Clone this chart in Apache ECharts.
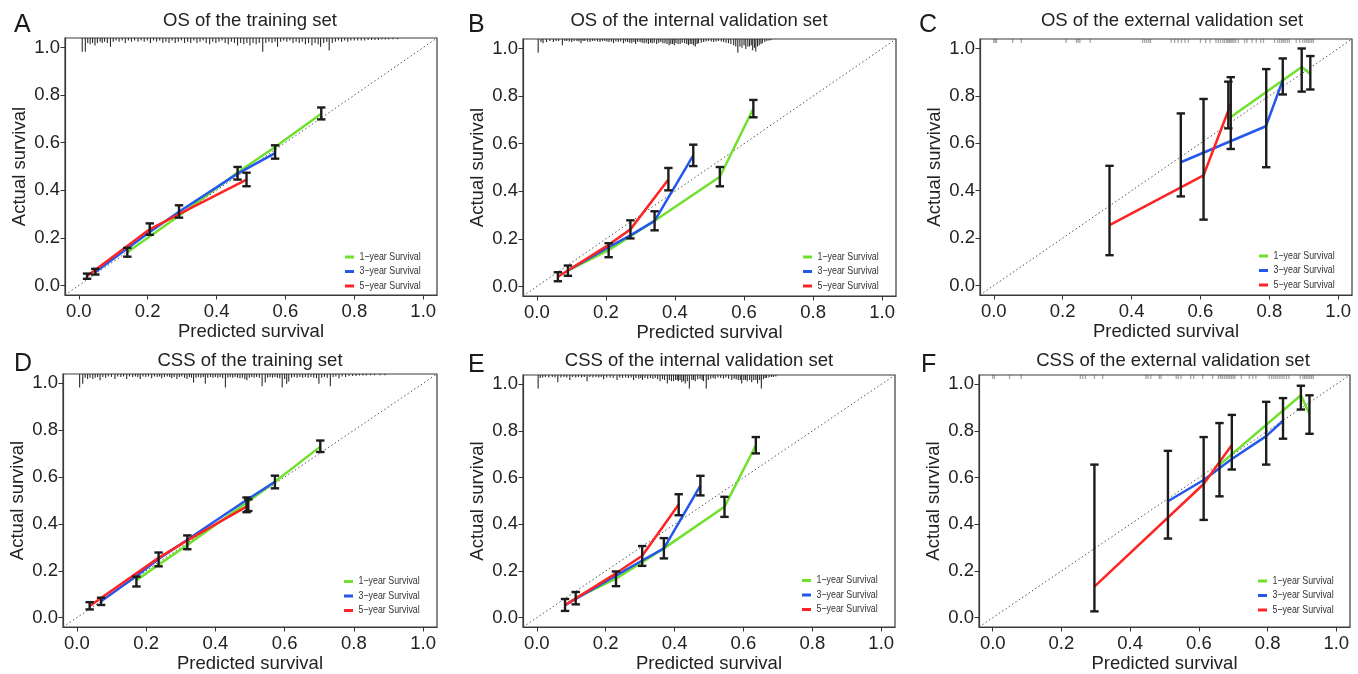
<!DOCTYPE html>
<html><head><meta charset="utf-8">
<script src="https://cdn.jsdelivr.net/npm/echarts@6/dist/echarts.min.js"></script>
<style>html,body{margin:0;padding:0;background:#fff}#c{width:1358px;height:674px}</style>
</head><body><div id="c"></div><script>
// ---------- data ----------
const tickValues = [0, 0.2, 0.4, 0.6, 0.8, 1.0];
const legendNames = ['1\u2212year Survival', '3\u2212year Survival', '5\u2212year Survival'];
const panelLetters = ['A', 'B', 'C', 'D', 'E', 'F'];
const panelTitles = ['OS of the training set', 'OS of the internal validation set', 'OS of the external validation set',
  'CSS of the training set', 'CSS of the internal validation set', 'CSS of the external validation set'];

// A: OS training
const osTrain1y = [[0.141,0.140],[0.291,0.293],[0.461,0.475],[0.570,0.582],[0.704,0.722]];
const osTrain3y = [[0.048,0.057],[0.206,0.225],[0.291,0.310],[0.461,0.470],[0.570,0.556]];
const osTrain5y = [[0.024,0.040],[0.206,0.236],[0.291,0.300],[0.487,0.445]];
const osTrainBars = [[0.024,0.028,0.050],[0.048,0.046,0.070],[0.141,0.121,0.158],[0.206,0.213,0.261],[0.291,0.285,0.337],[0.461,0.445,0.498],[0.487,0.417,0.474],[0.570,0.533,0.589],[0.704,0.698,0.748]];
const osTrainRug = [[0.010,5.5],[0.019,5.5],[0.026,2],[0.033,2.5],[0.040,2],[0.047,3],[0.054,2],[0.062,1.5],[0.068,2],[0.075,1.5],[0.083,2],[0.092,3.5],[0.100,1.5],[0.108,1],[0.117,1.5],[0.126,1],[0.135,2],[0.144,1],[0.153,1.5],[0.162,1],[0.172,1.5],[0.181,1],[0.190,1.5],[0.199,1],[0.208,2],[0.217,1],[0.226,1.5],[0.235,1],[0.244,2],[0.253,1.5],[0.262,2],[0.271,1],[0.280,2],[0.289,1.5],[0.298,1],[0.307,2],[0.316,1.5],[0.325,2],[0.334,1],[0.343,2],[0.352,1.5],[0.361,1],[0.370,2],[0.380,2.5],[0.389,1.5],[0.398,2],[0.407,1.5],[0.416,1],[0.425,2],[0.434,2.5],[0.443,1.5],[0.452,2],[0.461,3],[0.470,2],[0.479,2.5],[0.488,2],[0.497,3],[0.506,2],[0.515,2.5],[0.524,2],[0.534,5.5],[0.543,2],[0.552,1.5],[0.561,2],[0.570,1.5],[0.577,3.5],[0.586,1.5],[0.595,1],[0.604,1.5],[0.613,1],[0.622,2],[0.631,1.5],[0.640,2],[0.649,1.5],[0.658,2.5],[0.667,2],[0.677,3],[0.686,2],[0.695,2.5],[0.702,3.5],[0.711,2],[0.720,1.5],[0.727,5],[0.736,2],[0.745,1.5],[0.754,1],[0.763,1.5],[0.772,1],[0.781,1.5],[0.790,1],[0.800,1],[0.810,1],[0.820,1],[0.830,1],[0.840,0.8],[0.850,0.8],[0.860,0.8],[0.870,0.8],[0.880,0.6],[0.890,0.6],[0.900,0.6],[0.912,0.5],[0.925,0.5]];

// B: OS internal validation
const osInt1y = [[0.090,0.067],[0.208,0.153],[0.341,0.276],[0.530,0.461],[0.627,0.748]];
const osInt3y = [[0.090,0.067],[0.208,0.165],[0.271,0.215],[0.341,0.276],[0.453,0.551]];
const osInt5y = [[0.061,0.041],[0.208,0.175],[0.271,0.240],[0.381,0.450]];
const osIntBars = [[0.061,0.022,0.060],[0.090,0.045,0.088],[0.208,0.123,0.182],[0.271,0.202,0.278],[0.341,0.236,0.316],[0.381,0.404,0.498],[0.453,0.506,0.596],[0.530,0.421,0.502],[0.627,0.711,0.784]];
const osIntRug = [[0.004,5.5],[0.012,1.2],[0.018,1.7],[0.028,1.2],[0.038,0.8],[0.048,1.2],[0.056,0.8],[0.063,0.8],[0.074,2.5],[0.081,0.8],[0.087,0.8],[0.094,1],[0.101,1.2],[0.108,0.8],[0.116,0.8],[0.122,1],[0.128,1.7],[0.134,0.8],[0.139,0.8],[0.147,1],[0.154,1.2],[0.161,0.8],[0.168,0.8],[0.176,1],[0.183,1.2],[0.190,0.8],[0.197,0.8],[0.203,1],[0.209,1.2],[0.216,1],[0.222,1.7],[0.229,1],[0.236,1.2],[0.243,1],[0.251,1.7],[0.257,1],[0.263,1.2],[0.269,1.5],[0.275,1.7],[0.281,1.2],[0.286,2],[0.292,1.2],[0.299,1.2],[0.305,1.5],[0.311,1.7],[0.317,1.5],[0.323,2],[0.329,1.5],[0.334,1.7],[0.340,1.5],[0.347,2],[0.353,1.5],[0.359,1.2],[0.365,1.7],[0.371,1.7],[0.377,2],[0.383,2.5],[0.388,2],[0.393,2],[0.398,2.5],[0.403,1.7],[0.409,2],[0.415,2],[0.421,1.5],[0.428,1.7],[0.434,2],[0.439,2.5],[0.444,2],[0.449,2],[0.454,2.5],[0.459,3],[0.464,2],[0.468,1.7],[0.476,1.5],[0.483,1.2],[0.490,1],[0.497,0.8],[0.505,1],[0.512,1.2],[0.519,1],[0.526,0.8],[0.534,1],[0.541,1.2],[0.548,1.5],[0.555,1.7],[0.562,2],[0.570,2.5],[0.576,3],[0.582,5.5],[0.588,3],[0.594,3.5],[0.600,2.5],[0.605,4],[0.611,3],[0.616,3],[0.621,2.5],[0.625,4.5],[0.630,3.5],[0.634,5],[0.639,3],[0.644,2.5],[0.649,2],[0.653,1.7],[0.660,1.2],[0.666,0.8],[0.672,0.6],[0.678,0.5]];

// C: OS external validation
const osExt1y = [[0.682,0.705],[0.894,0.922],[0.919,0.892]];
const osExt3y = [[0.543,0.520],[0.790,0.672],[0.841,0.874]];
const osExt5y = [[0.336,0.255],[0.609,0.465],[0.688,0.765]];
const osExtBars = [[0.336,0.128,0.505],[0.543,0.376,0.726],[0.609,0.278,0.787],[0.681,0.663,0.860],[0.688,0.576,0.879],[0.791,0.499,0.913],[0.839,0.806,0.958],[0.894,0.818,1.000],[0.919,0.827,0.968]];
const osExtRug = [0.000,0.004,0.008,0.055,0.080,0.210,0.240,0.245,0.250,0.280,0.432,0.438,0.444,0.450,0.455,0.515,0.525,0.535,0.545,0.555,0.565,0.600,0.615,0.628,0.645,0.652,0.658,0.665,0.670,0.676,0.680,0.684,0.688,0.692,0.697,0.702,0.710,0.728,0.735,0.750,0.762,0.775,0.783,0.815,0.824,0.830,0.836,0.841,0.846,0.852,0.858,0.878,0.888,0.897,0.903,0.908,0.913,0.918,0.923,0.928];

// D: CSS training
const cssTrain1y = [[0.172,0.160],[0.319,0.310],[0.490,0.490],[0.572,0.580],[0.703,0.730]];
const cssTrain3y = [[0.070,0.070],[0.172,0.178],[0.236,0.250],[0.490,0.502],[0.572,0.580]];
const cssTrain5y = [[0.037,0.050],[0.236,0.255],[0.319,0.330],[0.495,0.478]];
const cssTrainBars = [[0.037,0.035,0.066],[0.070,0.054,0.085],[0.172,0.133,0.175],[0.236,0.219,0.278],[0.319,0.292,0.351],[0.490,0.450,0.513],[0.495,0.455,0.505],[0.572,0.552,0.606],[0.703,0.707,0.756]];
const cssTrainRug = [[0.008,5.5],[0.017,4],[0.024,1.5],[0.031,2],[0.038,1.5],[0.046,2],[0.053,1.5],[0.060,1.2],[0.067,2.5],[0.075,1.2],[0.083,1.5],[0.091,1],[0.100,1.2],[0.110,2],[0.118,1],[0.127,1.2],[0.135,1],[0.144,2],[0.152,1],[0.161,1.2],[0.169,1],[0.176,1.2],[0.183,2],[0.191,1],[0.199,1.2],[0.207,1],[0.216,1.7],[0.224,1],[0.232,1.2],[0.239,1],[0.245,1.7],[0.253,1.2],[0.261,1],[0.268,1.2],[0.274,1.7],[0.281,1.2],[0.289,2],[0.296,1.2],[0.303,1],[0.311,1.5],[0.318,2],[0.325,1.2],[0.331,1.5],[0.337,3.5],[0.344,1.5],[0.351,1.2],[0.358,1.5],[0.365,1.2],[0.371,4],[0.378,1.5],[0.386,1.2],[0.393,1.5],[0.400,1.2],[0.407,1.5],[0.414,1.2],[0.421,1.7],[0.429,5.5],[0.436,1.5],[0.443,1.2],[0.450,1.5],[0.457,1.2],[0.464,1.5],[0.471,1.7],[0.478,1.5],[0.485,2],[0.491,2.5],[0.498,1.5],[0.505,1.2],[0.512,1.5],[0.519,1.2],[0.527,1.5],[0.535,5],[0.544,3.5],[0.551,1.5],[0.558,1.2],[0.565,1.5],[0.572,1.2],[0.579,1.5],[0.586,1.7],[0.593,5.5],[0.600,2],[0.606,4],[0.612,3],[0.620,1.5],[0.628,1.2],[0.636,1.5],[0.644,1.2],[0.652,1.5],[0.660,1.2],[0.668,1.5],[0.676,1.2],[0.684,1.5],[0.692,1.7],[0.699,4],[0.707,1.5],[0.715,1.2],[0.723,1.5],[0.732,5],[0.740,1.2],[0.748,1],[0.757,1.7],[0.766,1],[0.776,1.2],[0.786,0.8],[0.796,0.8],[0.806,0.8],[0.816,0.6],[0.826,0.6],[0.836,0.6],[0.848,0.5],[0.860,0.5],[0.875,0.5],[0.890,0.5]];

// E: CSS internal validation
const cssInt1y = [[0.113,0.084],[0.230,0.167],[0.369,0.297],[0.545,0.475],[0.636,0.739]];
const cssInt3y = [[0.082,0.054],[0.230,0.180],[0.306,0.245],[0.369,0.297],[0.475,0.566]];
const cssInt5y = [[0.082,0.054],[0.230,0.190],[0.306,0.265],[0.412,0.485]];
const cssIntBars = [[0.082,0.029,0.080],[0.113,0.057,0.110],[0.230,0.135,0.198],[0.306,0.222,0.307],[0.369,0.254,0.341],[0.412,0.439,0.529],[0.475,0.524,0.608],[0.545,0.432,0.518],[0.636,0.704,0.774]];
const cssIntRug = [[0.004,5.5],[0.010,1.2],[0.017,1],[0.025,0.8],[0.035,1],[0.045,0.8],[0.053,1],[0.061,3],[0.070,1],[0.079,0.8],[0.087,1],[0.096,2],[0.104,0.8],[0.113,1],[0.121,0.8],[0.130,1],[0.138,0.8],[0.146,2.5],[0.154,0.8],[0.163,1],[0.172,0.8],[0.180,1],[0.187,0.8],[0.194,1.7],[0.203,1],[0.213,1],[0.222,1.2],[0.233,2],[0.241,1],[0.249,1.2],[0.258,1],[0.266,1.2],[0.274,1],[0.281,2],[0.288,1.2],[0.296,1.5],[0.302,1.2],[0.307,2],[0.314,1.2],[0.322,1.5],[0.330,1.2],[0.337,1.5],[0.344,1.2],[0.351,1.7],[0.358,2.5],[0.365,1.7],[0.371,2],[0.379,3.5],[0.385,2],[0.391,2.5],[0.397,2.5],[0.403,2],[0.408,2],[0.411,2.5],[0.416,2],[0.421,3],[0.426,2.5],[0.431,3.5],[0.437,2.5],[0.443,5.5],[0.450,2],[0.455,2],[0.460,2.5],[0.467,1.7],[0.474,1.5],[0.480,2],[0.484,2.5],[0.492,5.5],[0.498,2],[0.505,1.5],[0.512,1.2],[0.518,1.5],[0.526,1],[0.534,1.2],[0.542,1.5],[0.549,1],[0.557,1.5],[0.566,2],[0.573,1.5],[0.579,1.7],[0.585,2],[0.591,2],[0.595,3.5],[0.601,2],[0.606,2],[0.611,2.5],[0.618,2],[0.624,3],[0.630,2],[0.636,2],[0.641,3.5],[0.647,2],[0.652,5.5],[0.658,1.7],[0.663,1.2],[0.667,1.2],[0.674,1],[0.681,0.8],[0.687,0.8],[0.694,0.6]];

// F: CSS external validation
const cssExt1y = [[0.660,0.655],[0.897,0.953],[0.922,0.873]];
const cssExt3y = [[0.510,0.499],[0.614,0.590],[0.696,0.680],[0.796,0.778],[0.845,0.844]];
const cssExt5y = [[0.296,0.133],[0.614,0.573],[0.696,0.740]];
const cssExtBars = [[0.296,0.027,0.656],[0.510,0.339,0.715],[0.614,0.419,0.774],[0.660,0.520,0.834],[0.696,0.635,0.869],[0.796,0.656,0.925],[0.845,0.767,0.941],[0.897,0.892,0.994],[0.922,0.788,0.953]];
const cssExtRug = [0.000,0.005,0.049,0.083,0.255,0.262,0.270,0.296,0.320,0.446,0.452,0.460,0.485,0.490,0.534,0.540,0.548,0.576,0.585,0.611,0.640,0.657,0.663,0.668,0.674,0.680,0.685,0.690,0.695,0.700,0.705,0.724,0.747,0.757,0.766,0.805,0.812,0.818,0.824,0.830,0.836,0.842,0.848,0.855,0.862,0.895,0.903,0.908,0.913,0.918,0.923,0.928,0.933];

// ---------- layout / style ----------
const FONT = "'Liberation Sans', Arial, Helvetica, sans-serif";
const COLORS = ['#70E02C', '#2457EC', '#FF2424'];
const AX_MIN = -0.04, AX_MAX = 1.04;

const panels = [
  {curves:[osTrain1y, osTrain3y, osTrain5y], bars: osTrainBars, rug: osTrainRug, ext:false},
  {curves:[osInt1y, osInt3y, osInt5y], bars: osIntBars, rug: osIntRug, ext:false},
  {curves:[osExt1y, osExt3y, osExt5y], bars: osExtBars, rug: osExtRug, ext:true},
  {curves:[cssTrain1y, cssTrain3y, cssTrain5y], bars: cssTrainBars, rug: cssTrainRug, ext:false},
  {curves:[cssInt1y, cssInt3y, cssInt5y], bars: cssIntBars, rug: cssIntRug, ext:false},
  {curves:[cssExt1y, cssExt3y, cssExt5y], bars: cssExtBars, rug: cssExtRug, ext:true}
];
const layout = [
  {grid:{left:65, top:38, width:372, height:257}, titleX:250, titleY:11, letter:[14,25], legend:[345,257,14.5]},
  {grid:{left:523, top:39, width:373, height:257}, titleX:699, titleY:11, letter:[468,25.5], legend:[803,257,14.5]},
  {grid:{left:980, top:39, width:372, height:256}, titleX:1172, titleY:11, letter:[919,25], legend:[1259,256,14.5]},
  {grid:{left:63, top:374, width:374, height:258}, titleX:250, titleY:351, letter:[14,364.5], legend:[344,581.5,14.5]},
  {grid:{left:523, top:375, width:372, height:257}, titleX:699, titleY:351, letter:[468,365], legend:[802,580.5,14.5]},
  {grid:{left:979, top:375, width:371, height:257}, titleX:1173, titleY:351, letter:[921,365], legend:[1258,581,14.5]}
];

const grids = [], xAxes = [], yAxes = [], series = [], titles = [], graphics = [];

panels.forEach((p, i) => {
  const L = layout[i];
  grids.push(Object.assign({show:true, borderColor:'#3a3a3a', borderWidth:1.2, backgroundColor:'transparent'}, L.grid));
  const axisCommon = {
    type:'value', gridIndex:i, min:AX_MIN, max:AX_MAX,
    axisLine:{show:true, onZero:false, lineStyle:{color:'#3a3a3a', width:1.2}},
    splitLine:{show:false},
    axisTick:{show:true, inside:false, customValues:tickValues, length:4.5, lineStyle:{color:'#333', width:1}},
    nameLocation:'middle',
    nameTextStyle:{fontSize:18.5, color:'#222', fontFamily:FONT}
  };
  xAxes.push(Object.assign({}, axisCommon, {
    position:'bottom', name:'Predicted survival', nameGap:27,
    axisLabel:{customValues:tickValues, formatter:v=>v.toFixed(1), margin:7, fontSize:18.5, color:'#222', fontFamily:FONT}
  }));
  yAxes.push(Object.assign({}, axisCommon, {
    position:'left', name:'Actual survival', nameGap:36,
    axisLabel:{customValues:tickValues, formatter:v=>v.toFixed(1), margin:5, fontSize:18.5, color:'#222', fontFamily:FONT}
  }));

  // diagonal reference line
  series.push({type:'line', xAxisIndex:i, yAxisIndex:i, data:[[AX_MIN,AX_MIN],[AX_MAX,AX_MAX]],
    symbol:'none', silent:true, z:1, lineStyle:{color:'#555', width:1, type:[1.5,2.5]}});

  // rug / risk distribution at the top
  const rugData = p.ext ? p.rug.map(x => [x, 1]) : p.rug;
  series.push({type:'custom', xAxisIndex:i, yAxisIndex:i, silent:true, z:2, clip:false,
    data: rugData, encode:{x:0},
    renderItem:(params, api) => {
      const x = api.value(0), f = api.value(1);
      const depth = p.ext ? 0.017 : f * 0.0105;
      const a = api.coord([x, AX_MAX]), b = api.coord([x, AX_MAX - depth]);
      return {type:'line', shape:{x1:a[0], y1:a[1], x2:b[0], y2:b[1]},
        style:{stroke: p.ext ? 'rgba(60,60,60,0.45)' : '#2a2a2a', lineWidth: p.ext ? 1.3 : 1.1}};
    }});

  // calibration curves
  p.curves.forEach((c, k) => {
    series.push({type:'line', name:legendNames[k], xAxisIndex:i, yAxisIndex:i, data:c,
      symbol:'none', z:3 + k, color:COLORS[k],
      itemStyle:{color:COLORS[k]}, lineStyle:{color:COLORS[k], width:2.5}});
  });

  // error bars
  series.push({type:'custom', xAxisIndex:i, yAxisIndex:i, silent:true, z:10,
    data:p.bars, encode:{x:0, y:[1,2]},
    renderItem:(params, api) => {
      const x = api.value(0), lo = api.value(1), hi = api.value(2);
      const a = api.coord([x, lo]), b = api.coord([x, hi]);
      const w = 4.2, st = {stroke:'#1c1c1c', lineWidth:2.4};
      return {type:'group', children:[
        {type:'line', shape:{x1:a[0], y1:a[1], x2:b[0], y2:b[1]}, style:st},
        {type:'line', shape:{x1:a[0]-w, y1:a[1], x2:a[0]+w, y2:a[1]}, style:st},
        {type:'line', shape:{x1:b[0]-w, y1:b[1], x2:b[0]+w, y2:b[1]}, style:st}
      ]};
    }});

  titles.push({text:panelTitles[i], left:L.titleX, top:L.titleY, textAlign:'center', padding:0,
    textStyle:{fontSize:18.5, fontWeight:'normal', color:'#222', fontFamily:FONT}});

  // legend (condensed text like the original)
  const [lx, ly, lgap] = L.legend;
  legendNames.forEach((n, k) => {
    const yy = ly + k * lgap;
    graphics.push({type:'rect', shape:{x:lx, y:yy - 1.5, width:9, height:3}, style:{fill:COLORS[k]}, silent:true});
    graphics.push({type:'text', x:lx + 14.5, y:yy, scaleX:0.82, silent:true,
      style:{text:n, font:"10.8px " + FONT, fill:'#333', textVerticalAlign:'middle'}});
  });

  graphics.push({type:'text', x:L.letter[0], y:L.letter[1], silent:true,
    style:{text:panelLetters[i], font:"25px " + FONT, fill:'#1a1a1a', textVerticalAlign:'middle'}});
});

const chart = echarts.init(document.getElementById('c'), null, {renderer:'canvas'});
chart.setOption({
  animation:false,
  backgroundColor:'#ffffff',
  textStyle:{fontFamily:FONT},
  title:titles, grid:grids, xAxis:xAxes, yAxis:yAxes,
  series:series, graphic:graphics
});
</script></body></html>
